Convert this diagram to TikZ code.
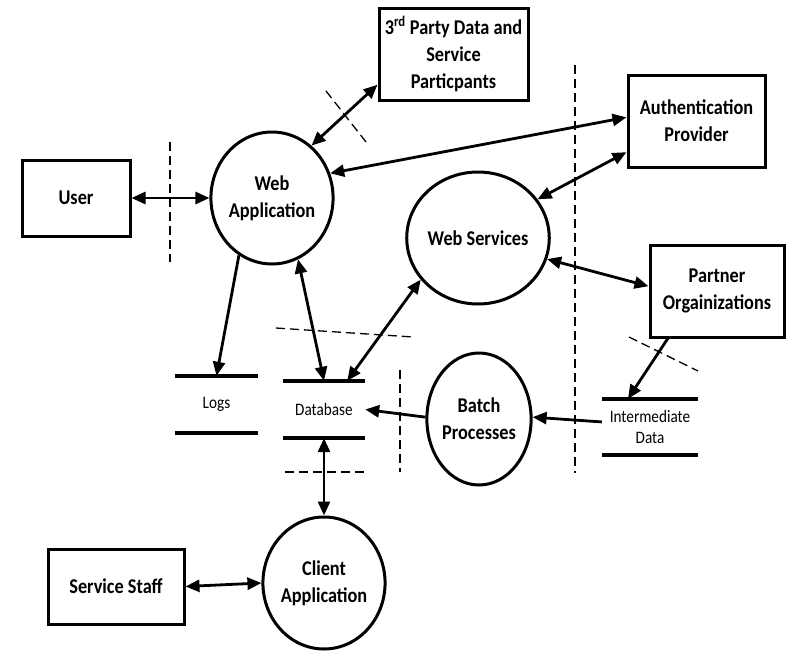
\documentclass[tikz,border=0pt]{standalone}
\usepackage{fontspec}
\newfontfamily\cf[FakeStretch=0.87]{Carlito}
\newcommand\bigtxt{\cf\bfseries\fontsize{21}{27}\selectfont}
\newcommand\smalltxt{\cf\fontsize{17.5}{21}\selectfont}
\usetikzlibrary{arrows.meta,shapes.geometric}
\begin{document}
\begin{tikzpicture}[x=1pt,y=-1pt,
  ent/.style={draw, line width=3pt, rectangle, inner sep=0pt, align=center, font=\bigtxt},
  proc/.style={draw, line width=3pt, ellipse, minimum width=104pt, minimum height=132pt, inner sep=0pt, align=center, font=\bigtxt},
  store/.style={rectangle, inner sep=0pt, align=center, font=\smalltxt},
  flow/.style={line width=2.8pt, -{Triangle[length=14pt,width=12pt]}},
  bflow/.style={line width=2.8pt, {Triangle[length=14pt,width=12pt]}-{Triangle[length=14pt,width=12pt]}},
  bnd/.style={line width=1.3pt, dash pattern=on 9pt off 5pt},
  sline/.style={line width=4pt}]
\useasboundingbox (0,0) rectangle (788,651);

% external entities
\node[ent, minimum width=149pt, minimum height=92pt] (third) at (453.5,54) {3\textsuperscript{rd} Party Data and\\Service\\Particpants};
\node[ent, minimum width=108pt, minimum height=76pt] (user) at (76,198) {User};
\node[ent, minimum width=137pt, minimum height=92pt] (auth) at (696.5,121) {Authentication\\Provider};
\node[ent, minimum width=134pt, minimum height=92pt] (partner) at (717,291) {Partner\\Orgainizations};
\node[ent, minimum width=136pt, minimum height=75pt] (staff) at (116,586.5) {Service Staff};

% processes
\node[proc] (webapp) at (272,198) {Web\\Application};
\node[proc] (websvc) at (478,238) {Web Services};
\node[proc] (batch) at (479,419) {Batch\\Processes};
\node[proc] (client) at (324,583) {Client\\Application};

% data stores
\node[store, minimum width=83pt, minimum height=57pt] (logs) at (216.5,404.5) {Logs};
\node[store, minimum width=82pt, minimum height=57pt] (db) at (324,409.5) {Database};
\node[store, minimum width=96pt, minimum height=56pt] (inter) at (650,427) {Intermediate\\Data};
\foreach \s in {logs,db,inter}{
  \draw[sline] (\s.north west) -- (\s.north east);
  \draw[sline] (\s.south west) -- (\s.south east);
}

% flows
\draw[bflow] (user) -- (webapp);
\draw[bflow] (webapp.53) -- (third.202);
\draw[bflow] (webapp.23) -- (auth.177);
\draw[flow] (webapp.240) -- (logs.north);
\draw[bflow] (webapp.-67) -- (db.north);
\draw[bflow] (websvc.216) -- (db.51);
\draw[bflow] (websvc.33) -- (auth.204);
\draw[bflow] (websvc.-17) -- (partner.176);
\draw[flow] (partner.224) -- (inter.128);
\draw[flow] (inter.174) -- (batch.2);
\draw[flow] (batch.178) -- (db.east);
\draw[bflow] (db.south) -- (client.north);
\draw[bflow] (staff.east) -- (client.west);

% trust boundaries
\draw[bnd] (170,142) -- (170,262);
\draw[bnd] (326,91) -- (366,142);
\draw[bnd] (575,65) -- (575,473);
\draw[bnd] (276,328) -- (413,337);
\draw[bnd] (285,472) -- (367,472);
\draw[bnd] (400,370) -- (400,472);
\draw[bnd] (629,337) -- (698,371);
\end{tikzpicture}
\end{document}
